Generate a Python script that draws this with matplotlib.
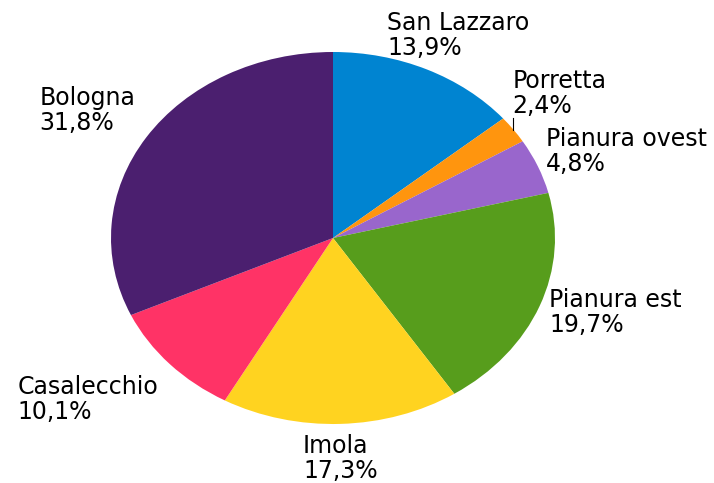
import numpy as np
import matplotlib.pyplot as plt

# slices, clockwise from 12 o'clock
labels = ['San Lazzaro', 'Porretta', 'Pianura ovest', 'Pianura est',
          'Imola', 'Casalecchio', 'Bologna']
shares = [13.9, 2.4, 4.8, 19.7, 17.3, 10.1, 31.8]
colors = ['#0084d1', '#ff950e', '#9966cc', '#579d1c',
          '#ffd320', '#ff3366', '#4b1f6f']

# small pixel nudges for the labels (Porretta is pushed up, with a leader line)
nudge = [(-5, 0), (-5, 14), (0, 0), (2, 6), (-2, -3), (-10, -3), (10, -2)]

plt.rcParams['font.family'] = ['DejaVu Sans']

fig = plt.figure(figsize=(7.14, 4.83), dpi=100)
ax = fig.add_axes([0, 0, 1, 1])

wedges, _ = ax.pie(shares, colors=colors, startangle=90, counterclock=False,
                   wedgeprops=dict(linewidth=0))

# stretch the pie into an ellipse (pixel geometry of the original)
ax.set_aspect('auto')
ax.set_xlim(-333 / 222, (714 - 333) / 222)
ax.set_ylim(-245 / 186, 238 / 186)
ax.axis('off')

texts = []
for w, name, val in zip(wedges, labels, shares):
    mid = np.deg2rad((w.theta1 + w.theta2) / 2)
    c, s = np.cos(mid), np.sin(mid)
    r = 1.07 + 0.1 * max(0, -c) - 0.03 * max(0, -s)
    t = ax.text(r * c, r * s, f'{name}\n{val:.1f}%'.replace('.', ','),
                fontsize=17, ha='left', va='bottom', multialignment='left',
                linespacing=1.05)
    texts.append((t, c, s))
    if name == 'Porretta':
        ax.plot([c, c], [s, s + 0.065], color='black', lw=0.8)

# shift each label so its box sits around the anchor depending on angle
fig.canvas.draw()
rend = fig.canvas.get_renderer()
for (t, c, s), (dx, dy) in zip(texts, nudge):
    bb = t.get_window_extent(rend)
    x0, y0 = ax.transData.transform(t.get_position())
    nx = x0 - (1 - c) / 2 * bb.width + dx
    ny = y0 - (1 - s) / 2 * bb.height + dy
    t.set_position(ax.transData.inverted().transform((nx, ny)))

fig.savefig('out.png', dpi=100)
